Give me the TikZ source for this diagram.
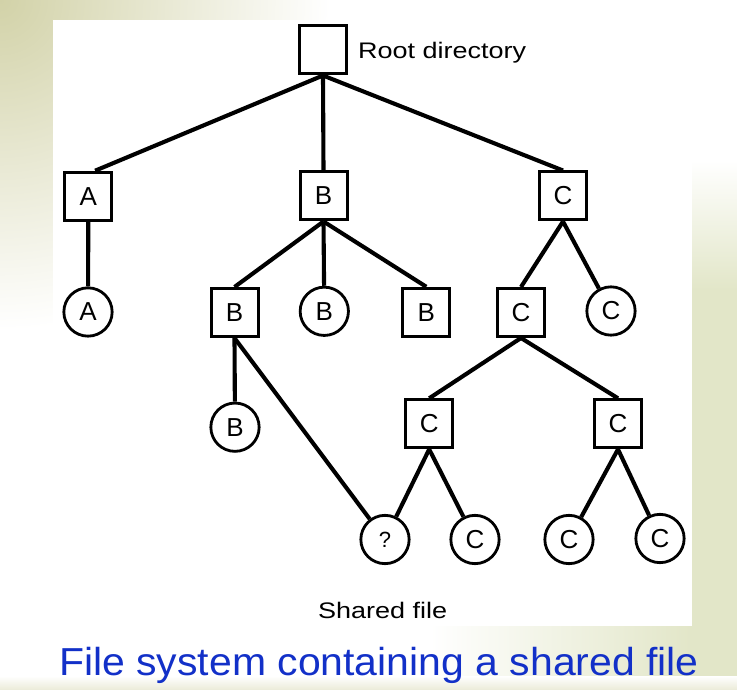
\documentclass[tikz,border=0pt]{standalone}
\usepackage{fontspec}
\setmainfont{Liberation Sans}
\definecolor{olivebg}{RGB}{210,210,168}
\definecolor{greenbg}{RGB}{226,230,200}
\definecolor{captionblue}{RGB}{18,48,200}
\tikzset{
  dirbox/.style={draw, line width=3pt, fill=white, minimum width=47pt, minimum height=48pt, inner sep=0pt, font=\fontsize{26}{28}\selectfont},
  filecirc/.style={draw, circle, line width=2.8pt, fill=white, minimum size=48.3pt, inner sep=0pt, font=\fontsize{26}{28}\selectfont},
  edge/.style={line width=4.1pt},
  label/.style={inner sep=0pt, font=\fontsize{22.5}{24}\selectfont}
}
\begin{document}
\begin{tikzpicture}[x=1pt,y=-1pt]
\useasboundingbox (0,0) rectangle (737,690);
% background
\fill[white] (0,0) rectangle (737,690);
\shade[inner color=olivebg, outer color=white] (-330,-330) rectangle (330,330);
\shade[top color=white, bottom color=greenbg] (692,160) rectangle (737,290);
\fill[greenbg] (692,290) rectangle (737,690);
\shade[left color=white, right color=greenbg] (430,626) rectangle (692,676);
\shade[top color=white, bottom color=olivebg!45] (0,676) rectangle (737,690);
\fill[white] (53,20.5) rectangle (692,626);

% nodes
\node[dirbox] (root) at (323,50) {};
\node[label, anchor=base west] (rootlbl) at (358,58.3) {\scalebox{1.2}[1]{Root directory}};

\node[dirbox] (A) at (88.3,196.2) {A};
\node[dirbox] (B) at (323.5,196) {B};
\node[dirbox] (C) at (563,196) {C};

\node[filecirc] (a1) at (88,312) {A};
\node[dirbox] (b1) at (234.5,312.5) {B};
\node[filecirc] (b2) at (324.3,311.3) {B};
\node[dirbox] (b3) at (426.3,312.3) {B};
\node[dirbox] (c1) at (521,312.5) {C};
\node[filecirc] (c2) at (611,311) {C};

\node[filecirc] (b11) at (235,427.2) {B};
\node[dirbox] (c11) at (429.2,423.8) {C};
\node[dirbox] (c12) at (618,423.8) {C};

\node[filecirc, font=\fontsize{22}{24}\selectfont] (q) at (385,539.5) {?};
\node[filecirc] (c111) at (475,539.5) {C};
\node[filecirc] (c121) at (569,539.5) {C};
\node[filecirc] (c122) at (660,538.5) {C};

\node[label, anchor=base west] (shared) at (318,618) {\scalebox{1.2}[1]{Shared file}};
\node[inner sep=0pt, anchor=base west, text=captionblue, font=\fontsize{39}{42}\selectfont] (caption) at (59,675) {\scalebox{1.05}[1]{File system containing a shared file}};

% edges
\draw[edge] (root.south) -- (A.75);
\draw[edge] (root.south) -- (B.north);
\draw[edge] (root.south) -- (C.north);
\draw[edge] (A.south) -- (a1);
\draw[edge] (B.south) -- (b1.north);
\draw[edge] (B.south) -- (b2);
\draw[edge] (B.south) -- (b3.north);
\draw[edge] (C.south) -- (c1.north);
\draw[edge] (C.south) -- (c2);
\draw[edge] (b1.south) -- (b11);
\draw[edge] (b1.south) -- (q);
\draw[edge] (c1.south) -- (c11.north);
\draw[edge] (c1.south) -- (c12.north);
\draw[edge] (c11.south) -- (q);
\draw[edge] (c11.south) -- (c111);
\draw[edge] (c12.south) -- (c121);
\draw[edge] (c12.south) -- (c122);
\end{tikzpicture}
\end{document}
